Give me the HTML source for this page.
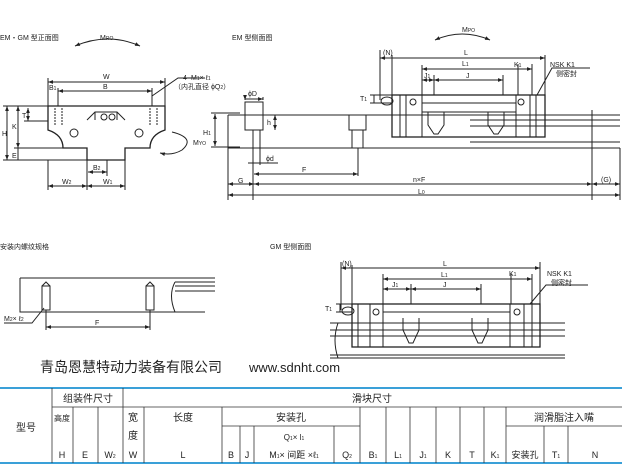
<!DOCTYPE html>
<html><head><meta charset="utf-8"><style>
html,body{margin:0;padding:0;background:#fff;}
svg{display:block}
text{font-family:"Liberation Sans","Noto Sans CJK SC",sans-serif;fill:#222}
</style></head><body>
<svg width="622" height="465" viewBox="0 0 622 465" xmlns="http://www.w3.org/2000/svg">
<defs>
<marker id="a" viewBox="0 0 8 6" refX="8" refY="3" markerWidth="5" markerHeight="4" orient="auto-start-reverse"><path d="M0,0L8,3L0,6z" fill="#222"/></marker>
</defs>
<g stroke="#222" stroke-width="1" fill="none">
<!-- FRONT VIEW -->
<path d="M75,46 Q108,32 140,46" marker-start="url(#a)" marker-end="url(#a)"/>
<path d="M48,106 H165 V130 Q150,135 150,148 H125 V160 H87 V148 H63 Q63,135 48,130 Z" stroke-width="1.3"/>
<path d="M87,120 L95,112 H117 L125,120"/>
<path d="M95,112 V120 M117,112 V120"/>
<circle cx="74" cy="133" r="4"/><circle cx="139" cy="133" r="4"/>
<circle cx="104" cy="117" r="3"/><circle cx="112" cy="117" r="3"/>
<path d="M55,108 V125 M62,108 V125 M150,108 V125 M157,108 V125" stroke-dasharray="2,1"/>
<path d="M48,82 H165" marker-start="url(#a)" marker-end="url(#a)"/>
<path d="M48,78 V106 M165,78 V106 M58,88 V106 M152,88 V106"/>
<path d="M58,91 H152" marker-start="url(#a)" marker-end="url(#a)"/>
<path d="M152,96 L178,78 H205"/>
<path d="M3,106 H48 M3,160 H87 M14,148 H63"/>
<path d="M7,106 V160" marker-start="url(#a)" marker-end="url(#a)"/>
<path d="M18,106 V148" marker-start="url(#a)" marker-end="url(#a)"/>
<path d="M18,148 V160"/>
<path d="M28,108 V121" marker-start="url(#a)" marker-end="url(#a)"/>
<path d="M24,121 H48"/>
<path d="M48,160 V190 M87,160 V190 M125,160 V190 M107,160 V176"/>
<path d="M48,186 H87" marker-start="url(#a)" marker-end="url(#a)"/>
<path d="M87,186 H125" marker-start="url(#a)" marker-end="url(#a)"/>
<path d="M88,172 H107" marker-start="url(#a)" marker-end="url(#a)"/>
<path d="M172,132 Q196,138 182,150 Q172,156 160,153" marker-end="url(#a)"/>
<path d="M211,113 H240 M211,147 H240"/>
<path d="M215,114 V146" marker-start="url(#a)" marker-end="url(#a)"/>
<!-- EM SIDE -->
<path d="M435,40 Q462,28 490,40" marker-start="url(#a)" marker-end="url(#a)"/>
<path d="M228,115 H620 M228,148 H620 M228,115 V200 M470,120 H620 M470,126 H620 M470,142 H620"/>
<rect x="245" y="102" width="18" height="28"/><rect x="253" y="130" width="7" height="18"/>
<rect x="349" y="115" width="17" height="15"/><rect x="352" y="130" width="11" height="18"/>
<path d="M245,100 V97 M263,100 V97 M245,99 H263" marker-start="url(#a)" marker-end="url(#a)"/>
<path d="M275,115 V130" marker-start="url(#a)" marker-end="url(#a)"/>
<path d="M253,148 V200 M260,148 V165 M248,163 H278" />
<path d="M254,174 H358" marker-start="url(#a)" marker-end="url(#a)"/>
<path d="M358,148 V176 M620,148 V200 M592,110 V200"/>
<path d="M228,184 H254" marker-start="url(#a)" marker-end="url(#a)"/>
<path d="M254,184 H592" marker-start="url(#a)" marker-end="url(#a)"/>
<path d="M592,184 H620" marker-start="url(#a)" marker-end="url(#a)"/>
<path d="M228,195 H620" marker-start="url(#a)" marker-end="url(#a)"/>
<rect x="392" y="95" width="153" height="42" stroke-width="1.3"/>
<path d="M400,95 V137 M406,95 V137 M422,95 V137 M516,95 V137 M530,95 V137 M536,95 V137 M422,103 H516 M422,112 H516"/>
<path d="M428,112 V125 L434,134 H438 L444,125 V112 M488,112 V125 L494,134 H498 L504,125 V112"/>
<circle cx="413" cy="102" r="3"/><circle cx="521" cy="102" r="3"/>
<ellipse cx="387" cy="101" rx="6" ry="4"/>
<path d="M380,50 V100 M392,55 V95 M545,55 V95 M422,65 V95 M532,64 V95 M434,75 V95 M503,75 V95 M518,64 V95"/>
<path d="M380,58 H545" marker-start="url(#a)" marker-end="url(#a)"/>
<path d="M422,69 H532" marker-start="url(#a)" marker-end="url(#a)"/>
<path d="M422,80 H434" marker-start="url(#a)" marker-end="url(#a)"/>
<path d="M434,80 H503" marker-start="url(#a)" marker-end="url(#a)"/>
<path d="M370,95 H392 M370,103 H392 M374,95 V103"/>
<path d="M537,95 L552,68 H590"/>
<!-- BOTTOM LEFT -->
<path d="M20,278 H215 M20,278 V312 H205 M175,282 H215 M175,286 H215 M175,291 H215 M175,282 Q168,295 175,312"/>
<rect x="42" y="286" width="8" height="24"/><rect x="146" y="286" width="8" height="24"/>
<path d="M42,286 L46,282 L50,286 M146,286 L150,282 L154,286"/>
<path d="M46,310 V330 M150,310 V330"/>
<path d="M46,327 H150" marker-start="url(#a)" marker-end="url(#a)"/>
<path d="M4,323 H32 L44,308"/>
<!-- GM SIDE -->
<path d="M330,323 H565 M330,330 H565 M330,336 H565 M330,355 H565 M330,358 H565 M338,323 Q332,340 338,358"/>
<rect x="352" y="304" width="188" height="43" stroke-width="1.3"/>
<path d="M358,304 V347 M370,304 V347 M383,304 V347 M510,304 V347 M524,304 V347 M532,304 V347 M383,312 H510"/>
<path d="M403,318 V330 L409,343 H413 L419,330 V318 M472,318 V330 L478,343 H482 L488,330 V318"/>
<circle cx="376" cy="312" r="3"/><circle cx="517" cy="312" r="3"/>
<ellipse cx="348" cy="311" rx="6" ry="4"/>
<path d="M341,262 V310 M352,265 V304 M540,262 V304 M383,274 V304 M532,274 V304 M411,284 V304 M481,284 V304 M511,274 V304"/>
<path d="M341,268 H540" marker-start="url(#a)" marker-end="url(#a)"/>
<path d="M383,279 H532" marker-start="url(#a)" marker-end="url(#a)"/>
<path d="M383,289 H411" marker-start="url(#a)" marker-end="url(#a)"/>
<path d="M411,289 H481" marker-start="url(#a)" marker-end="url(#a)"/>
<path d="M336,304 H352 M336,312 H352 M340,304 V312"/>
<path d="M530,304 L546,285 H588"/>
</g>
<g font-size="7">
<text x="0" y="40">EM・GM 型正面图</text>
<text x="100" y="40">M<tspan font-size="5">RO</tspan></text>
<text x="103" y="79">W</text><text x="103" y="89">B</text><text x="49" y="90">B<tspan font-size="5">1</tspan></text>
<text x="183" y="80">4−M<tspan font-size="5">1</tspan>× ℓ<tspan font-size="5">1</tspan></text>
<text x="174" y="89">（内孔直径 ϕQ<tspan font-size="5">2</tspan>）</text>
<text x="2" y="136">H</text><text x="12" y="129">K</text><text x="22" y="118">T</text><text x="12" y="158">E</text>
<text x="62" y="184">W<tspan font-size="5">2</tspan></text><text x="103" y="184">W<tspan font-size="5">1</tspan></text><text x="93" y="170">B<tspan font-size="5">2</tspan></text>
<text x="193" y="145">M<tspan font-size="5">YO</tspan></text>
<text x="203" y="135">H<tspan font-size="5">1</tspan></text>
<text x="232" y="40">EM 型侧面图</text>
<text x="462" y="32">M<tspan font-size="5">PO</tspan></text>
<text x="248" y="96">ϕD</text><text x="267" y="125">h</text><text x="266" y="161">ϕd</text>
<text x="302" y="172">F</text><text x="238" y="183">G</text><text x="413" y="182">n×F</text><text x="601" y="182">(G)</text>
<text x="418" y="194">L<tspan font-size="5">0</tspan></text>
<text x="383" y="55">(N)</text><text x="464" y="55">L</text><text x="462" y="66">L<tspan font-size="5">1</tspan></text>
<text x="424" y="78">J<tspan font-size="5">1</tspan></text><text x="466" y="78">J</text><text x="514" y="67">K<tspan font-size="5">1</tspan></text>
<text x="550" y="67">NSK K1</text><text x="556" y="76">侧密封</text>
<text x="360" y="101">T<tspan font-size="5">1</tspan></text>
<text x="0" y="249">安装内螺纹规格</text>
<text x="270" y="249">GM 型侧面图</text>
<text x="4" y="321">M<tspan font-size="5">2</tspan>× ℓ<tspan font-size="5">2</tspan></text>
<text x="95" y="325">F</text>
<text x="342" y="266">(N)</text><text x="443" y="266">L</text><text x="441" y="277">L<tspan font-size="5">1</tspan></text>
<text x="392" y="287">J<tspan font-size="5">1</tspan></text><text x="443" y="287">J</text><text x="509" y="276">K<tspan font-size="5">1</tspan></text>
<text x="547" y="276">NSK K1</text><text x="551" y="285">侧密封</text>
<text x="325" y="311">T<tspan font-size="5">1</tspan></text>
</g>
<text x="40" y="372" font-size="14">青岛恩慧特动力装备有限公司</text>
<text x="249" y="372" font-size="13">www.sdnht.com</text>
<!-- TABLE -->
<g stroke="#333" stroke-width="0.8">
<line x1="0" y1="388" x2="622" y2="388" stroke="#3aa0d8" stroke-width="2"/>
<line x1="0" y1="463" x2="622" y2="463" stroke="#3aa0d8" stroke-width="2"/>
<line x1="52" y1="407" x2="622" y2="407"/>
<line x1="222" y1="426" x2="360" y2="426"/>
<line x1="506" y1="426" x2="622" y2="426"/>
<line x1="52" y1="388" x2="52" y2="463"/><line x1="123" y1="388" x2="123" y2="463"/>
<line x1="73" y1="407" x2="73" y2="463"/><line x1="98" y1="407" x2="98" y2="463"/>
<line x1="144" y1="407" x2="144" y2="463"/><line x1="222" y1="407" x2="222" y2="463"/>
<line x1="240" y1="426" x2="240" y2="463"/><line x1="254" y1="426" x2="254" y2="463"/>
<line x1="334" y1="426" x2="334" y2="463"/><line x1="360" y1="407" x2="360" y2="463"/>
<line x1="386" y1="407" x2="386" y2="463"/><line x1="410" y1="407" x2="410" y2="463"/>
<line x1="436" y1="407" x2="436" y2="463"/><line x1="460" y1="407" x2="460" y2="463"/>
<line x1="484" y1="407" x2="484" y2="463"/><line x1="506" y1="407" x2="506" y2="463"/>
<line x1="544" y1="426" x2="544" y2="463"/><line x1="568" y1="426" x2="568" y2="463"/>
</g>
<g font-size="10" text-anchor="middle">
<text x="26" y="431">型号</text><text x="88" y="402">组装件尺寸</text><text x="372" y="402">滑块尺寸</text>
<text x="62" y="421" font-size="8">高度</text><text x="133" y="421">宽</text><text x="133" y="439">度</text>
<text x="183" y="421">长度</text><text x="291" y="421">安装孔</text><text x="564" y="421">润滑脂注入嘴</text>
<text x="294" y="440" font-size="8">Q<tspan font-size="5">1</tspan>× l<tspan font-size="5">1</tspan></text>
<g font-size="9">
<text x="62" y="458">H</text><text x="85" y="458">E</text><text x="110" y="458">W<tspan font-size="5">2</tspan></text>
<text x="133" y="458">W</text><text x="183" y="458">L</text><text x="231" y="458">B</text><text x="247" y="458">J</text>
<text x="294" y="458">M<tspan font-size="5">1</tspan>× 间距 ×ℓ<tspan font-size="5">1</tspan></text>
<text x="347" y="458">Q<tspan font-size="5">2</tspan></text><text x="373" y="458">B<tspan font-size="5">1</tspan></text>
<text x="398" y="458">L<tspan font-size="5">1</tspan></text><text x="423" y="458">J<tspan font-size="5">1</tspan></text>
<text x="448" y="458">K</text><text x="472" y="458">T</text><text x="495" y="458">K<tspan font-size="5">1</tspan></text>
<text x="525" y="458">安装孔</text><text x="556" y="458">T<tspan font-size="5">1</tspan></text><text x="595" y="458">N</text>
</g></g>
</svg>
</body></html>
